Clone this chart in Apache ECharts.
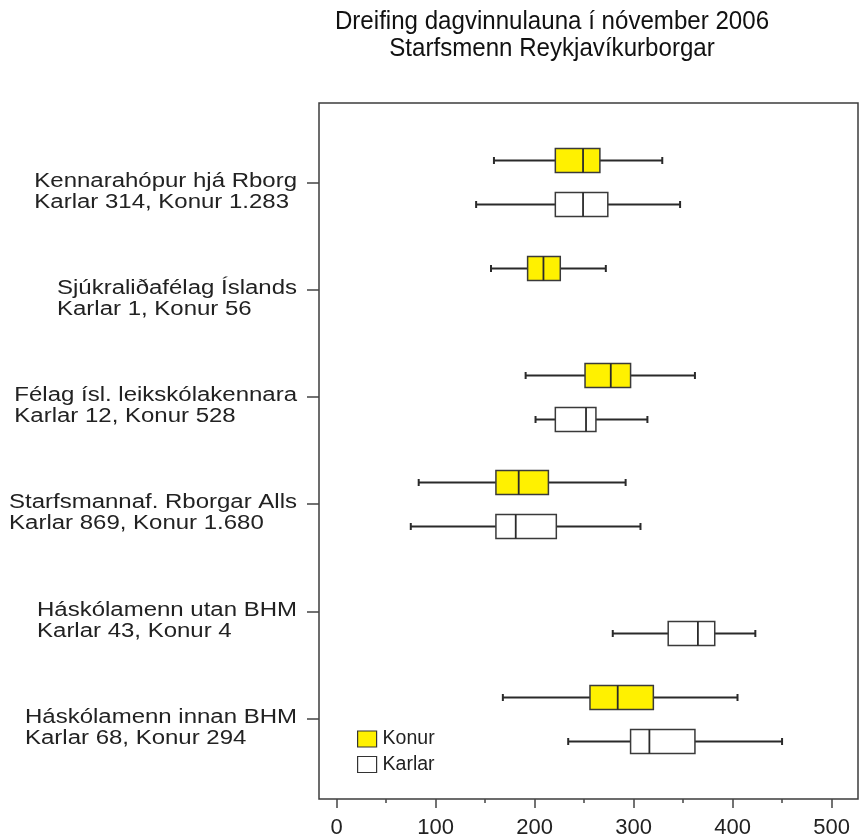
<!DOCTYPE html>
<html>
<head>
<meta charset="utf-8">
<script src="https://cdn.jsdelivr.net/npm/echarts@6/dist/echarts.min.js"></script>
<style>
  html, body { margin: 0; background: #fff; }
  #chart { width: 861px; height: 839px; }
</style>
</head>
<body>
<div id="chart"></div>
<script>
const titleLines = ['Dreifing dagvinnulauna í nóvember 2006', 'Starfsmenn Reykjavíkurborgar'];
const groups = [
  'Kennarahópur hjá Rborg',
  'Sjúkraliðafélag Íslands',
  'Félag ísl. leikskólakennara',
  'Starfsmannaf. Rborgar Alls',
  'Háskólamenn utan BHM',
  'Háskólamenn innan BHM'
];
const counts = [
  'Karlar 314, Konur 1.283',
  'Karlar 1, Konur 56',
  'Karlar 12, Konur 528',
  'Karlar 869, Konur 1.680',
  'Karlar 43, Konur 4',
  'Karlar 68, Konur 294'
];
// [min, Q1, median, Q3, max], null = no box
const konur = [
  [159, 221, 249, 266, 329],
  [156, 193, 209, 226, 272],
  [191, 251, 277, 297, 362],
  [83, 161, 184, 214, 292],
  null,
  [168, 256, 284, 320, 405]
];
const karlar = [
  [141, 221, 249, 274, 347],
  null,
  [201, 221, 252, 262, 314],
  [75, 161, 181, 222, 307],
  [279, 335, 365, 382, 423],
  [234, 297, 316, 362, 450]
];
const xMajor = [0, 100, 200, 300, 400, 500];
const xMinor = [50, 150, 250, 350, 450];

const YELLOW = '#fff100';
const INK = '#2a2a2a';
const FONT = "'Liberation Sans', Arial, Helvetica, sans-serif";

const chart = echarts.init(document.getElementById('chart'));

function toItems(boxes) {
  return boxes.map((b, i) => (b ? [i].concat(b) : null)).filter(Boolean);
}

function boxRenderer(offset, fill) {
  return function (params, api) {
    const i = api.value(0);
    const lo = api.coord([api.value(1), i]);
    const q1 = api.coord([api.value(2), i]);
    const md = api.coord([api.value(3), i]);
    const q3 = api.coord([api.value(4), i]);
    const hi = api.coord([api.value(5), i]);
    const y = Math.round(lo[1] + offset) + 0.5;
    const h = 24;
    const cap = 3.5;
    const line = (x1, y1, x2, y2, w) => ({
      type: 'line',
      shape: { x1, y1, x2, y2 },
      style: { stroke: INK, lineWidth: w }
    });
    return {
      type: 'group',
      children: [
        line(lo[0], y, q1[0], y, 2),
        line(q3[0], y, hi[0], y, 2),
        line(lo[0], y - cap, lo[0], y + cap, 2),
        line(hi[0], y - cap, hi[0], y + cap, 2),
        {
          type: 'rect',
          shape: { x: q1[0], y: y - h / 2, width: q3[0] - q1[0], height: h },
          style: { fill: fill, stroke: '#3a3a3a', lineWidth: 1.5 }
        },
        line(md[0], y - h / 2, md[0], y + h / 2, 1.8)
      ]
    };
  };
}

chart.setOption({
  animation: false,
  backgroundColor: '#fff',
  grid: {
    left: 319, right: 3, top: 103, bottom: 40,
    show: true, borderColor: '#3c3c3c', borderWidth: 1.5, backgroundColor: 'transparent'
  },
  xAxis: [
    {
      type: 'value', min: -17.7, max: 526.7, position: 'bottom',
      splitLine: { show: false },
      axisLine: { show: false, onZero: false },
      axisTick: { show: true, customValues: xMajor, length: 9, lineStyle: { color: '#444', width: 1.5 } },
      axisLabel: { customValues: xMajor, margin: 18, fontSize: 22, color: '#222', fontFamily: FONT }
    },
    {
      type: 'value', min: -17.7, max: 526.7, position: 'bottom',
      splitLine: { show: false },
      axisLine: { show: false, onZero: false },
      axisTick: { show: true, customValues: xMinor, length: 4, lineStyle: { color: '#444', width: 1.5 } },
      axisLabel: { show: false }
    }
  ],
  yAxis: {
    type: 'value', inverse: true, min: -0.74, max: 5.75, position: 'left',
    splitLine: { show: false },
    axisLine: { show: false, onZero: false },
    axisTick: { show: true, customValues: [0, 1, 2, 3, 4, 5], length: 12, lineStyle: { color: '#444', width: 1.5 } },
    axisLabel: { show: false }
  },
  legend: {
    orient: 'vertical', left: 357, top: 729, padding: 0,
    itemWidth: 19, itemHeight: 16, itemGap: 5.5,
    icon: 'rect',
    itemStyle: { borderColor: '#333', borderWidth: 1.2 },
    textStyle: { fontSize: 19.5, color: '#222', fontFamily: FONT, lineHeight: 16, padding: [0, 0, 0, 1] },
    data: ['Konur', 'Karlar']
  },
  series: [
    {
      name: 'Konur', type: 'custom',
      itemStyle: { color: YELLOW, borderColor: '#333' },
      encode: { x: [1, 2, 3, 4, 5], y: 0 },
      renderItem: boxRenderer(-22, YELLOW),
      data: toItems(konur)
    },
    {
      name: 'Karlar', type: 'custom',
      itemStyle: { color: '#ffffff', borderColor: '#333' },
      encode: { x: [1, 2, 3, 4, 5], y: 0 },
      renderItem: boxRenderer(22, '#ffffff'),
      data: toItems(karlar)
    }
  ]
});

// category labels and title: stretched text like the original artwork
const labelEls = groups.map((g, i) => {
  const ty = chart.convertToPixel({ yAxisIndex: 0 }, i);
  return {
    type: 'text', x: 297, y: ty + 9.5, scaleX: 1.23,
    style: {
      text: '{a|' + g + '}\n{a|' + counts[i] + '}',
      align: 'right', verticalAlign: 'middle',
      rich: { a: { align: 'left', fontSize: 19.5, lineHeight: 21, fontFamily: FONT, fill: '#222' } }
    }
  };
});
labelEls.push({
  type: 'text', x: 552, y: 8, scaleX: 0.927,
  style: {
    text: titleLines.join('\n'),
    align: 'center', verticalAlign: 'top',
    fontSize: 26, lineHeight: 27, fontFamily: FONT, fill: '#111'
  }
});
chart.setOption({ graphic: labelEls });
</script>
</body>
</html>
